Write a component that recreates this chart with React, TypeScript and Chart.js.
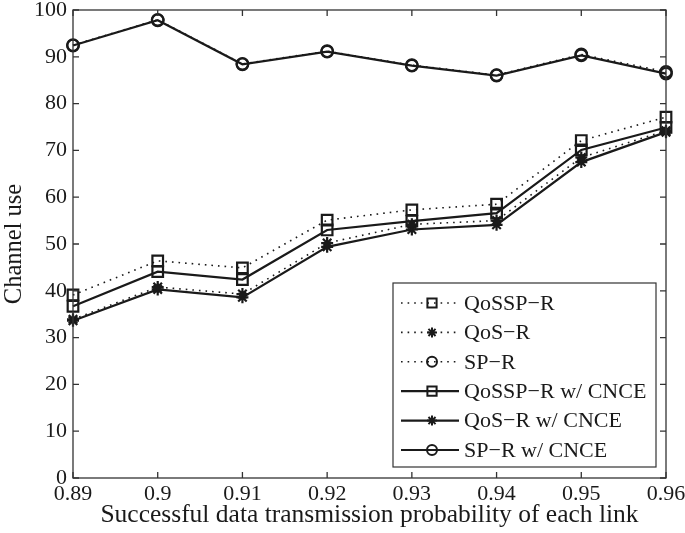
import React, { useEffect, useRef } from 'react';
import { Chart, registerables } from 'chart.js';

Chart.register(...registerables);

const xLabels = ['0.89', '0.9', '0.91', '0.92', '0.93', '0.94', '0.95', '0.96'];
const yTicks = [0, 10, 20, 30, 40, 50, 60, 70, 80, 90, 100];

const qosspR = [39.1, 46.4, 44.9, 55.1, 57.3, 58.5, 72.1, 77.1];
const qosR = [33.9, 40.8, 39.3, 50.2, 54.2, 55.0, 68.5, 74.2];
const spR = [92.5, 97.9, 88.5, 91.2, 88.2, 86.1, 90.5, 86.8];
const qosspRCnce = [36.7, 44.1, 42.4, 53.0, 54.9, 56.6, 70.1, 74.9];
const qosRCnce = [33.6, 40.3, 38.6, 49.4, 53.1, 54.1, 67.5, 73.9];
const spRCnce = [92.4, 97.8, 88.4, 91.1, 88.1, 86.0, 90.3, 86.4];

const seriesNames = ['QoSSP\u2212R', 'QoS\u2212R', 'SP\u2212R', 'QoSSP\u2212R w/ CNCE', 'QoS\u2212R w/ CNCE', 'SP\u2212R w/ CNCE'];
const seriesData = [qosspR, qosR, spR, qosspRCnce, qosRCnce, spRCnce];
const seriesMarkers = ['rect', 'star', 'circle', 'rect', 'star', 'circle'];
const seriesDotted = [true, true, true, false, false, false];

const FONT = "'Liberation Serif', 'Times New Roman', Times, serif";
const INK = '#1a1a1a';
const DOT_DASH = [1.6, 5];

function markerRadius(style: string) {
  if (style === 'rect') return 7.5;
  if (style === 'star') return 6;
  return 5.8;
}

function drawMarker(ctx: CanvasRenderingContext2D, style: string, x: number, y: number, r: number) {
  ctx.beginPath();
  if (style === 'rect') {
    const s = r * Math.SQRT1_2;
    ctx.rect(x - s, y - s, 2 * s, 2 * s);
  } else if (style === 'circle') {
    ctx.arc(x, y, r, 0, Math.PI * 2);
  } else {
    for (let k = 0; k < 4; k++) {
      const a = (k * Math.PI) / 4;
      ctx.moveTo(x + Math.sin(a) * r, y - Math.cos(a) * r);
      ctx.lineTo(x - Math.sin(a) * r, y + Math.cos(a) * r);
    }
  }
  ctx.stroke();
}

const framePlugin = {
  id: 'matlabFrame',
  afterDatasetsDraw(chart: any) {
    const { ctx, chartArea } = chart;
    const { left, right, top, bottom } = chartArea;
    const xs = chart.scales.x;
    const ys = chart.scales.y;
    ctx.save();
    ctx.strokeStyle = '#333';
    ctx.lineWidth = 1.3;
    ctx.setLineDash([]);
    ctx.strokeRect(left, top, right - left, bottom - top);
    const tl = 6;
    ctx.beginPath();
    xs.ticks.forEach((_t: any, i: number) => {
      const px = xs.getPixelForTick(i);
      ctx.moveTo(px, bottom);
      ctx.lineTo(px, bottom - tl);
      ctx.moveTo(px, top);
      ctx.lineTo(px, top + tl);
    });
    ys.ticks.forEach((t: any) => {
      const py = ys.getPixelForValue(t.value);
      ctx.moveTo(left, py);
      ctx.lineTo(left + tl, py);
      ctx.moveTo(right, py);
      ctx.lineTo(right - tl, py);
    });
    ctx.stroke();

    // legend
    const boxRight = right - 10;
    const boxBottom = bottom - 11;
    const boxW = 263;
    const boxH = 184;
    const bx = boxRight - boxW;
    const by = boxBottom - boxH;
    ctx.fillStyle = '#fff';
    ctx.fillRect(bx, by, boxW, boxH);
    ctx.strokeStyle = '#333';
    ctx.lineWidth = 1.2;
    ctx.strokeRect(bx, by, boxW, boxH);
    ctx.font = `22px ${FONT}`;
    ctx.textBaseline = 'middle';
    ctx.textAlign = 'left';
    chart.data.datasets.forEach((ds: any, i: number) => {
      const ry = by + 20 + i * 29.4;
      const x0 = bx + 8;
      const x1 = bx + 66;
      const mx = bx + 39;
      ctx.strokeStyle = INK;
      ctx.lineWidth = ds.borderWidth;
      ctx.setLineDash(ds.borderDash || []);
      ctx.beginPath();
      ctx.moveTo(x0, ry);
      ctx.lineTo(x1, ry);
      ctx.stroke();
      ctx.setLineDash([]);
      ctx.lineWidth = 2;
      drawMarker(ctx, ds.pointStyle, mx, ry, ds.pointStyle === 'rect' ? 6.5 : 5);
      ctx.fillStyle = INK;
      ctx.fillText(ds.label, bx + 71, ry + 1);
    });
    ctx.restore();
  },
};

export default function App() {
  const ref = useRef<HTMLCanvasElement | null>(null);

  useEffect(() => {
    if (!ref.current) return;
    const datasets = seriesNames.map((name, i) => ({
      label: name,
      data: seriesData[i],
      borderColor: INK,
      borderWidth: seriesDotted[i] ? 1.6 : 2.2,
      borderDash: seriesDotted[i] ? DOT_DASH : [],
      pointStyle: seriesMarkers[i],
      pointRadius: markerRadius(seriesMarkers[i]),
      pointBorderWidth: 2.2,
      pointBorderColor: INK,
      pointBackgroundColor: 'rgba(0,0,0,0)',
      fill: false,
      tension: 0,
    }));
    const chart = new Chart(ref.current, {
      type: 'line',
      data: { labels: xLabels, datasets },
      plugins: [framePlugin],
      options: {
        responsive: false,
        animation: false,
        layout: { padding: { top: 10, right: 19, left: 0, bottom: 0 } },
        plugins: { legend: { display: false }, tooltip: { enabled: false } },
        scales: {
          x: {
            type: 'category',
            offset: false,
            grid: { display: false, drawTicks: false },
            border: { display: false },
            ticks: { color: INK, font: { family: FONT, size: 22 }, padding: 3, maxRotation: 0, autoSkip: false },
            title: { display: true, text: 'Successful data transmission probability of each link', color: INK, font: { family: FONT, size: 25.5 }, padding: { top: 0, bottom: 2 } },
            afterFit: (s: any) => { s.height = 55; s.paddingLeft = 0; s.paddingRight = 0; },
          },
          y: {
            type: 'linear',
            min: 0,
            max: 100,
            afterBuildTicks: (s: any) => { s.ticks = yTicks.map((v) => ({ value: v })); },
            grid: { display: false, drawTicks: false },
            border: { display: false },
            ticks: { color: INK, font: { family: FONT, size: 22 }, padding: 6 },
            title: { display: true, text: 'Channel use', color: INK, font: { family: FONT, size: 24.5 }, padding: { top: 0, bottom: 0 } },
            afterFit: (s: any) => { s.width = 73; s.paddingTop = 0; s.paddingBottom = 0; },
          },
        },
      } as any,
    });
    return () => chart.destroy();
  }, []);

  return (
    <div style={{ position: 'fixed', left: 0, top: 0, width: 685, height: 533, background: '#fff' }}>
      <canvas ref={ref} width={685} height={533} />
    </div>
  );
}
